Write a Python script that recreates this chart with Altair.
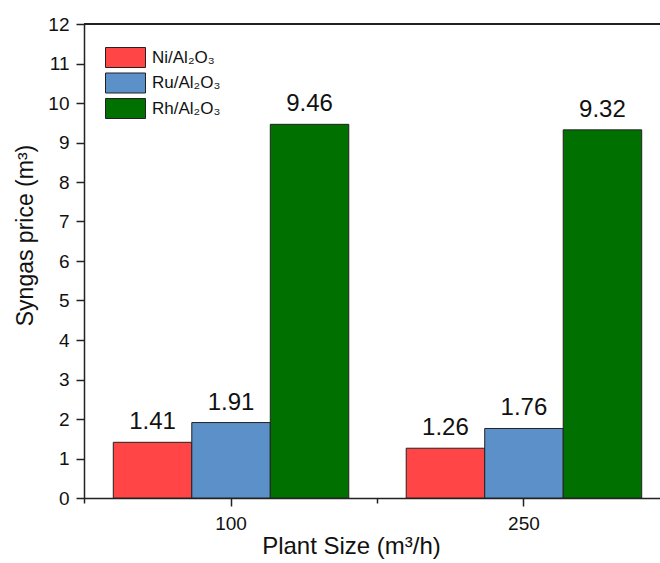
import altair as alt
import pandas as pd

sizes = ["100", "250"]
catalysts = ["Ni/Al₂O₃", "Ru/Al₂O₃", "Rh/Al₂O₃"]
ni_vals = [1.41, 1.26]
ru_vals = [1.91, 1.76]
rh_vals = [9.46, 9.32]
colors = ["#FF4545", "#5B90C9", "#007000"]
y_ticks = [i * 0.5 for i in range(25)]

rows = []
for name, vals in zip(catalysts, [ni_vals, ru_vals, rh_vals]):
    for s, v in zip(sizes, vals):
        rows.append({"size": s, "catalyst": name, "price": v})
df = pd.DataFrame(rows)

FONT = "Liberation Sans"
INK = "#222222"

PI = 0.196
PO = 0.1
xscale = alt.Scale(domain=sizes, range=[0, 587], paddingInner=PI, paddingOuter=PO)
yscale = alt.Scale(domain=[0, 12], nice=False, zero=True)
offscale = alt.Scale(domain=catalysts, paddingInner=0, paddingOuter=0)

yaxis = alt.Axis(
    values=y_ticks, format="d",
    labelExpr="datum.value % 1 ? '' : datum.label",
    tickSize={"condition": {"test": "datum.value % 1 === 0", "value": 8}, "value": 5},
    labelOverlap=False, labelFontSize=19, labelPadding=7,
    title="Syngas price (m³)", titleFontSize=23, titleAngle=270,
    titleBaseline="alphabetic", titleAlign="center", titleX=-52, titleY=211,
    grid=False,
)

x_main = alt.Axis(
    orient="bottom", labelAngle=0, tickSize=8, labelFontSize=19, labelPadding=8,
    title="Plant Size (m³/h)", titleFontSize=24, titleBaseline="alphabetic",
    titleAlign="center", titleX=267, titleY=55, grid=False,
)
# minor ticks halfway between the groups (at the step boundaries)
x_minor = alt.Axis(
    orient="bottom", bandPosition=-(PI / 2) / (1 - PI), labels=False, domain=False,
    title="", tickSize=5, grid=False,
)

base = alt.Chart(df)

bars = base.mark_bar(stroke=INK, strokeWidth=1).encode(
    x=alt.X("size:N", scale=xscale, axis=x_main, sort=sizes),
    xOffset=alt.XOffset("catalyst:N", scale=offscale, sort=catalysts),
    y=alt.Y("price:Q", scale=yscale, axis=yaxis),
    fill=alt.Fill(
        "catalyst:N",
        scale=alt.Scale(domain=catalysts, range=colors),
        legend=alt.Legend(
            orient="none", legendX=31, legendY=23, title=None,
            symbolType="M-2,-1H2V1H-2Z", symbolSize=400,
            symbolStrokeColor=INK, symbolStrokeWidth=1, symbolOpacity=1,
            labelFont=FONT, labelFontSize=17, labelColor="#111111",
            labelOffset=16, rowPadding=0.5, padding=0,
        ),
    ),
)

labels = base.mark_text(
    font=FONT, fontSize=24, dy=-13, baseline="alphabetic", align="center", color="#111111"
).encode(
    x=alt.X("size:N", scale=xscale, axis=x_minor, sort=sizes),
    xOffset=alt.XOffset("catalyst:N", scale=offscale, sort=catalysts),
    y=alt.Y("price:Q", scale=yscale, axis=yaxis),
    text=alt.Text("price:Q", format=".2f"),
)

top_line = alt.Chart(df).mark_rule(color=INK, strokeWidth=1.5).encode(
    y=alt.Y(datum=12, scale=yscale, axis=yaxis),
)

chart = (
    alt.layer(bars, labels, top_line)
    .resolve_axis(x="independent")
    .properties(
        width=576, height=474,
        autosize=alt.AutoSizeParams(type="none"),
        padding={"left": 84, "top": 24, "right": 0, "bottom": 65},
        background="white",
    )
    .configure_view(stroke=None)
    .configure_axis(
        labelFont=FONT, titleFont=FONT, labelColor="#111111", titleColor="#111111",
        titleFontWeight="normal", domainColor=INK, domainWidth=1.5,
        tickColor=INK, tickWidth=1.5,
    )
)

chart.save("out.html", embed_options={"renderer": "svg", "actions": False})
